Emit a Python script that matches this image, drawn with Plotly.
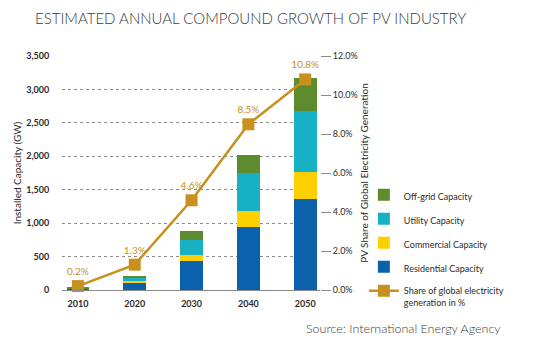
import plotly.graph_objects as go

# Projected PV installed capacity (GW) by segment and PV share of global electricity
years = [2010, 2020, 2030, 2040, 2050]
residential = [15, 110, 440, 940, 1365]
commercial = [3, 20, 85, 245, 405]
utility = [10, 60, 225, 565, 910]
offgrid = [17, 20, 135, 275, 490]
share_pct = [0.2, 1.3, 4.6, 8.5, 10.8]

left_ticks = [0, 500, 1000, 1500, 2000, 2500, 3000, 3500]
right_ticks = [0, 2, 4, 6, 8, 10, 12]

FONT = "Lato"
GOLD = "#C8901F"
TXT = "#2b2b2b"

fig = go.Figure()

segments = [
    ("Residential Capacity", residential, "#0B61AC", 4),
    ("Commercial Capacity", commercial, "#FFD000", 3),
    ("Utility Capacity", utility, "#17B0C5", 2),
    ("Off-grid Capacity", offgrid, "#5D8B2D", 1),
]
for name, vals, color, rank in segments:
    fig.add_trace(go.Bar(
        x=years, y=vals, name=name, marker=dict(color=color, line=dict(width=0)),
        width=4, legendgroup=name, legendrank=rank,
    ))

fig.add_trace(go.Scatter(
    x=years, y=share_pct, yaxis="y2", mode="lines+markers+text",
    name="Share of global electricity<br>generation in %",
    line=dict(color=GOLD, width=2.5),
    marker=dict(symbol="square", size=12, color=GOLD),
    text=[f"{v:.1f}%" for v in share_pct], textposition="top center",
    textfont=dict(family=FONT, size=10, color=GOLD),
    cliponaxis=False, legendgroup="share", legendrank=5,
))

fig.update_layout(
    width=536, height=349,
    margin=dict(l=62, r=216, t=56, b=59),
    paper_bgcolor="white", plot_bgcolor="white",
    barmode="stack",
    font=dict(family=FONT, size=9, color=TXT),
    xaxis=dict(
        range=[2007.2, 2052.6], tickvals=years, ticktext=[str(y) for y in years],
        showgrid=False, zeroline=False, showline=True, linecolor="#8a8a8a", linewidth=1,
        ticks="outside", ticklen=5, tickcolor="rgba(0,0,0,0)",
        tickfont=dict(family=FONT, size=9, color=TXT, weight="bold"),
        fixedrange=True,
    ),
    yaxis=dict(
        range=[0, 3500], tickvals=left_ticks, tickformat=",",
        showgrid=True, gridcolor="#8c8c8c", griddash="dot", gridwidth=1,
        zeroline=False, showline=False,
        ticks="outside", ticklen=10, tickcolor="rgba(0,0,0,0)",
        tickfont=dict(family=FONT, size=9, color=TXT, weight="bold"),
        title=dict(text="Installed Capacity (GW)", standoff=2,
                   font=dict(family=FONT, size=10, color=TXT)),
        automargin=False,
    ),
    yaxis2=dict(
        overlaying="y", side="right", range=[0, 12], tickvals=right_ticks,
        ticktext=[f"{v:.1f}%" for v in right_ticks],
        showgrid=False, zeroline=False, showline=False,
        ticks="outside", ticklen=10, tickcolor="#8a8a8a", tickwidth=1,
        tickfont=dict(family=FONT, size=9, color=TXT),
        title=dict(text="PV Share of Global Electricity Generation", standoff=2,
                   font=dict(family=FONT, size=10, color=TXT)),
        automargin=False,
    ),
    legend=dict(
        x=1.17, y=0.46, xanchor="left", yanchor="top",
        traceorder="grouped", tracegroupgap=5, valign="top",
        font=dict(family=FONT, size=9, color=TXT),
        bgcolor="rgba(0,0,0,0)",
    ),
    showlegend=True,
)

fig.add_annotation(
    text="ESTIMATED ANNUAL COMPOUND GROWTH OF PV INDUSTRY",
    xref="paper", yref="paper", x=-0.112, y=1.0, yshift=56 - 18,
    xanchor="left", yanchor="middle", showarrow=False,
    font=dict(family=FONT, size=15, color="#3a3a3a", weight=300),
)
fig.add_annotation(
    text="Source: International Energy Agency",
    xref="paper", yref="paper", x=(304 - 62) / 258, y=0, yshift=-(328 - 290),
    xanchor="left", yanchor="middle", showarrow=False,
    font=dict(family=FONT, size=12.5, color="#3a3a3a", weight=300),
)

fig.write_html("out.html")
